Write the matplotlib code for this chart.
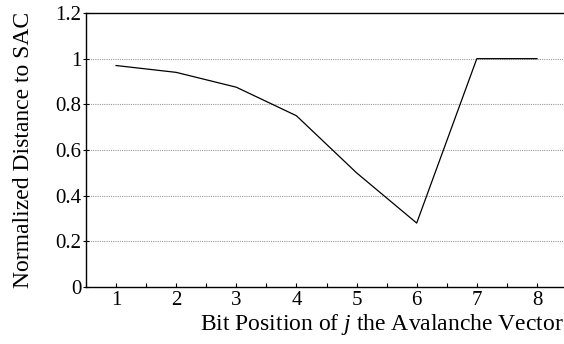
import matplotlib
matplotlib.use("Agg")
import matplotlib.pyplot as plt
from matplotlib.ticker import MultipleLocator

plt.rcParams['font.family'] = ['Liberation Serif', 'DejaVu Serif']
plt.rcParams['mathtext.fontset'] = 'custom'
plt.rcParams['mathtext.it'] = 'Liberation Serif:italic'
plt.rcParams['mathtext.rm'] = 'Liberation Serif'

bit_positions = [1, 2, 3, 4, 5, 6, 7, 8]
distance = [0.97, 0.94, 0.875, 0.75, 0.5, 0.28, 1.0, 1.0]
y_ticks = [0, 0.2, 0.4, 0.6, 0.8, 1.0, 1.2]
y_tick_labels = ["0", "0.2", "0.4", "0.6", "0.8", "1", "1.2"]

fig = plt.figure(figsize=(5.64, 3.44), dpi=100)
ax = fig.add_axes([86 / 564, 1 - 287 / 344, (564 - 86) / 564, (287 - 13) / 344])

ax.plot(bit_positions, distance, color='black', linewidth=0.9)

ax.set_xlim(0.5, 8.45)
ax.set_ylim(0, 1.2)
ax.set_xticks(bit_positions)
ax.xaxis.set_minor_locator(MultipleLocator(0.5))
ax.set_yticks(y_ticks)
ax.set_yticklabels(y_tick_labels)

for y in y_ticks[1:-1]:
    ax.axhline(y, color='#999999', linestyle=(0, (1, 1)), linewidth=0.8, zorder=0)

ax.spines['right'].set_visible(False)
for s in ('left', 'bottom', 'top'):
    ax.spines[s].set_linewidth(1.0)

ax.tick_params(axis='x', which='both', direction='in', length=3, width=0.8,
               labelsize=15, pad=3)
ax.tick_params(axis='y', which='both', direction='inout', length=5, width=0.8,
               labelsize=15, pad=1)

ax.set_ylabel("Normalized Distance to SAC", fontsize=17)
ax.yaxis.set_label_coords(-0.108, 0.5)
ax.set_xlabel(r"Bit Position of $j$ the Avalanche Vector", fontsize=17)
ax.xaxis.set_label_coords(1.0, -0.09)
ax.xaxis.label.set_horizontalalignment('right')

fig.savefig("out.png", dpi=100)
